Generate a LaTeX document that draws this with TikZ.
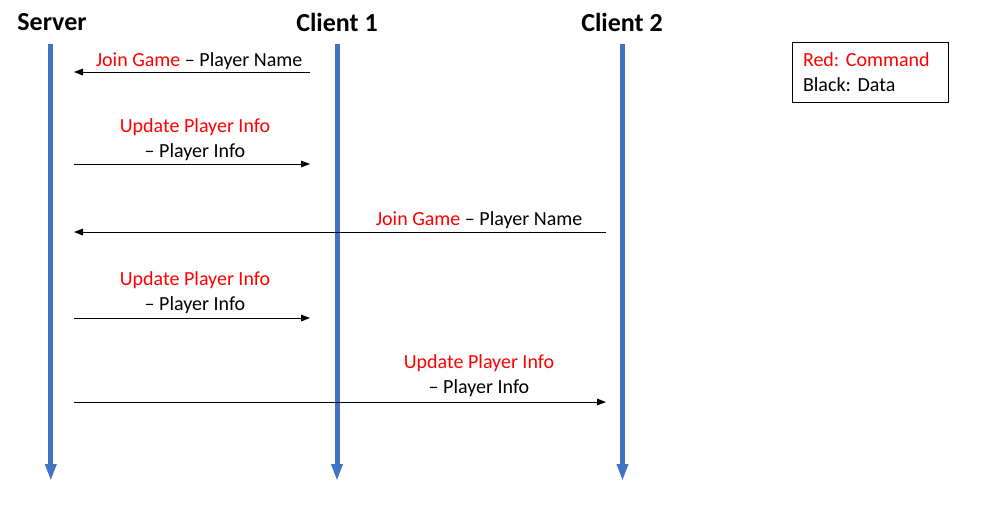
\documentclass[tikz,border=0pt]{standalone}
\usepackage{fontspec}
\setmainfont{Carlito}
\usetikzlibrary{arrows.meta}
\definecolor{lifeblue}{RGB}{68,114,196}
\definecolor{cmdred}{RGB}{255,0,0}
\frenchspacing

\begin{document}
\begin{tikzpicture}[
  x=0.75pt, y=-0.75pt,
  font=\fontsize{15}{18.75}\selectfont,
  actor/.style={font=\fontsize{19.5}{23}\selectfont\bfseries, inner sep=0pt},
  life/.style={draw=lifeblue, line width=3.75pt, -{Triangle[length=12.75pt,width=8pt]}},
  msg/.style={draw=black, line width=0.75pt, -{Triangle[length=6.75pt,width=5pt]}},
  lbl/.style={inner sep=0pt, align=center},
  legend/.style={draw, line width=0.75pt, inner xsep=8.25pt, inner ysep=0pt, minimum width=117pt, minimum height=45pt, text width=100.5pt, align=left}
]
\useasboundingbox (0,0) rectangle (981,511);

\node[actor] (server) at (52,22) {Server};
\node[actor] (client1) at (337,22) {Client 1};
\node[actor] (client2) at (622,22) {Client 2};

% lifelines
\foreach \n/\x in {server/50.8, client1/337, client2/622.5} {
  \coordinate (\n-top) at (\x,44);
  \coordinate (\n-end) at (\x,481);
}
\draw[life] (server-top) -- (server-end);
\draw[life] (client1-top) -- (client1-end);
\draw[life] (client2-top) -- (client2-end);

% message rows
\foreach \i/\y in {1/72, 2/164, 3/232, 4/318, 5/402} {
  \coordinate (sv\i) at (74,\y);
  \coordinate (ca\i) at (310,\y);
  \coordinate (cb\i) at (606,\y);
}

\draw[msg] (ca1) -- (sv1);
\draw[msg] (sv2) -- (ca2);
\draw[msg] (cb3) -- (sv3);
\draw[msg] (sv4) -- (ca4);
\draw[msg] (sv5) -- (cb5);

\node[lbl] (join1) at (199,61.5) {\textcolor{cmdred}{Join Game} – Player Name};
\node[lbl] (upd1) at (195,140) {\textcolor{cmdred}{Update Player Info}\\– Player Info};
\node[lbl] (join2) at (479,220.5) {\textcolor{cmdred}{Join Game} – Player Name};
\node[lbl] (upd2) at (195,293) {\textcolor{cmdred}{Update Player Info}\\– Player Info};
\node[lbl] (upd3) at (479,376) {\textcolor{cmdred}{Update Player Info}\\– Player Info};

\node[legend] (key) at (870,72) {\textcolor{cmdred}{Red: Command}\\Black: Data};
\end{tikzpicture}
\end{document}
